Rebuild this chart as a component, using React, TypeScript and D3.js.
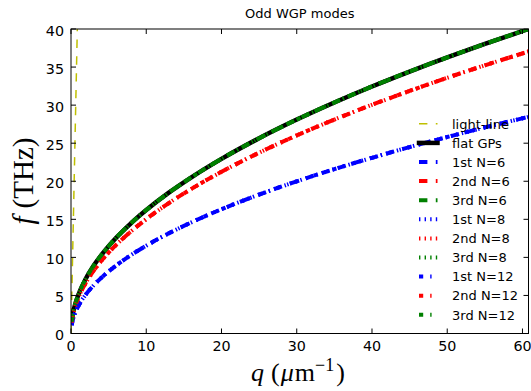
import React from "react";
import * as d3 from "d3";

const W = 531;
const H = 391;

const qValues = [0.09, 0.25, 0.5, 1, 2, 3, 4.5, 6, 8, 10, 13, 16, 20, 25, 30, 35, 40, 45, 50, 55, 60.8];
const flatGP = [1.54, 2.57, 3.63, 5.13, 7.25, 8.89, 10.88, 12.57, 14.51, 16.22, 18.5, 20.52, 22.94, 25.65, 28.1, 30.35, 32.45, 34.41, 36.27, 38.04, 40.0];
const mode1 = [1.1, 1.83, 2.58, 3.65, 5.16, 6.32, 7.74, 8.94, 10.32, 11.54, 13.16, 14.6, 16.32, 18.25, 19.99, 21.59, 23.08, 24.49, 25.81, 27.07, 28.46];
const mode2 = [1.43, 2.38, 3.36, 4.75, 6.72, 8.23, 10.08, 11.64, 13.43, 15.02, 17.13, 19.0, 21.24, 23.75, 26.02, 28.1, 30.04, 31.86, 33.59, 35.23, 37.04];
const mode3 = [1.54, 2.57, 3.63, 5.13, 7.25, 8.89, 10.88, 12.57, 14.51, 16.22, 18.5, 20.52, 22.94, 25.65, 28.1, 30.35, 32.45, 34.41, 36.27, 38.04, 40.0];
const lightQ = [0, 0.838];
const lightF = [0, 40];

const xTicks = [0, 10, 20, 30, 40, 50, 60];
const yTicks = [0, 5, 10, 15, 20, 25, 30, 35, 40];

const modeNames = ["1st", "2nd", "3rd"];
const modeColors = ["#0000ff", "#ff0000", "#008000"];
const modeData = [mode1, mode2, mode3];
const nValues = [6, 8, 12];
const nDashes = ["8.4,8.4", "1.4,4.2", "4.2,7,1.4,7"];

const left = 71;
const right = 528.5;
const top = 29;
const bottom = 333.5;

type Series = { label: string; q: number[]; f: number[]; color: string; width: number; dash: string | null; cap: string };

const series: Series[] = [
  { label: "light-line", q: lightQ, f: lightF, color: "#bfbf00", width: 1.5, dash: "8.4,8.4", cap: "butt" },
  { label: "flat GPs", q: qValues, f: flatGP, color: "#000000", width: 4.5, dash: null, cap: "square" },
];
nValues.forEach((n, ni) => {
  modeNames.forEach((m, mi) => {
    series.push({ label: `${m} N=${n}`, q: qValues, f: modeData[mi], color: modeColors[mi], width: 4, dash: nDashes[ni], cap: "butt" });
  });
});

export default function App() {
  const x = d3.scaleLinear().domain([0, 60.8]).range([left, right]);
  const y = d3.scaleLinear().domain([0, 40]).range([bottom, top]);
  const line = d3
    .line<[number, number]>()
    .x((d) => x(d[0]))
    .y((d) => y(d[1]))
    .curve(d3.curveMonotoneX);

  const tickLen = 5;
  const legX0 = 419;
  const legX1 = 437.5;
  const legTextX = 452;
  const legY0 = 123.8;
  const legDy = 19.1;

  return (
    <svg width={W} height={H} style={{ position: "absolute", left: 0, top: 0, background: "#fff" }} fontFamily="DejaVu Sans">
      <defs>
        <clipPath id="plotclip">
          <rect x={left} y={top} width={right - left} height={bottom - top} />
        </clipPath>
      </defs>
      <rect x={0} y={0} width={W} height={H} fill="#fff" />
      <g clipPath="url(#plotclip)">
        {series.map((s, i) => (
          <path
            key={i}
            d={line(s.q.map((q, j) => [q, s.f[j]] as [number, number])) || ""}
            fill="none"
            stroke={s.color}
            strokeWidth={s.width}
            strokeDasharray={s.dash || undefined}
            strokeLinecap={s.cap as any}
          />
        ))}
      </g>
      <rect x={left} y={top} width={right - left} height={bottom - top} fill="none" stroke="#000" strokeWidth={1} />
      {xTicks.map((t) => (
        <g key={"x" + t}>
          <line x1={x(t)} x2={x(t)} y1={bottom} y2={bottom - tickLen} stroke="#000" />
          <line x1={x(t)} x2={x(t)} y1={top} y2={top + tickLen} stroke="#000" />
          <text x={x(t)} y={351} fontSize={14.3} textAnchor="middle" fill="#000">
            {t}
          </text>
        </g>
      ))}
      {yTicks.map((t) => (
        <g key={"y" + t}>
          <line x1={left} x2={left + tickLen} y1={y(t)} y2={y(t)} stroke="#000" />
          <line x1={right} x2={right - tickLen} y1={y(t)} y2={y(t)} stroke="#000" />
          <text x={64} y={y(t) + 6.5} fontSize={14.3} textAnchor="end" fill="#000">
            {t}
          </text>
        </g>
      ))}
      <text x={(left + right) / 2} y={18} fontSize={13} textAnchor="middle" fill="#000">
        Odd WGP modes
      </text>
      <text x={298} y={381} fontSize={26} textAnchor="middle" fontFamily="Liberation Serif" fill="#000">
        <tspan fontStyle="italic">q</tspan>
        <tspan dx={7}>(</tspan>
        <tspan fontStyle="italic" dx={1}>μ</tspan>
        <tspan dx={1}>m</tspan>
        <tspan dy={-10} fontSize={18}>−1</tspan>
        <tspan dy={10} dx={2}>)</tspan>
      </text>
      <text transform={`translate(33,181) rotate(-90)`} fontSize={29} textAnchor="middle" fontFamily="Liberation Serif" fill="#000">
        <tspan fontStyle="italic">f</tspan>
        <tspan dx={8}>(THz)</tspan>
      </text>
      {series.map((s, i) => {
        const cy = legY0 + i * legDy;
        return (
          <g key={"l" + i}>
            <line
              x1={legX0}
              x2={legX1}
              y1={cy}
              y2={cy}
              stroke={s.color}
              strokeWidth={s.width}
              strokeDasharray={s.dash || undefined}
              strokeLinecap={s.cap as any}
            />
            <text x={legTextX} y={cy + 4.7} fontSize={13} fill="#000">
              {s.label}
            </text>
          </g>
        );
      })}
    </svg>
  );
}
